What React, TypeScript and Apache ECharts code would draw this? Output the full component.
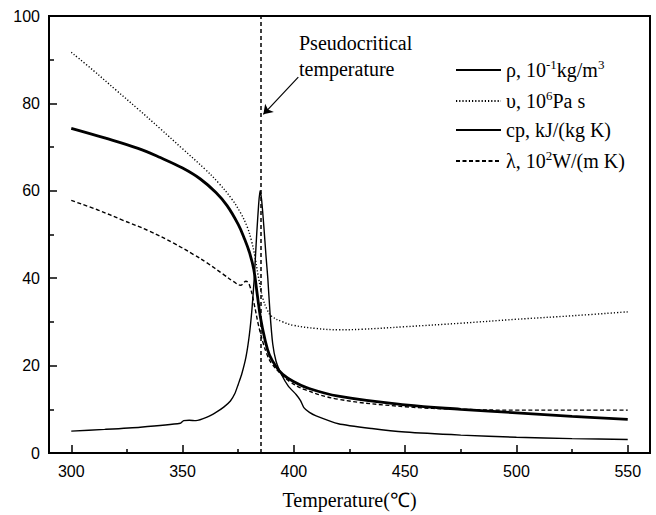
import React, { useEffect, useRef } from 'react';
import * as echarts from 'echarts';

// ---- data ----
const xTickLabels = [300, 350, 400, 450, 500, 550];
const xMinorTicks = [325, 375, 425, 475, 525];
const pseudoCriticalT = 385;

const rhoT = [300, 315, 330, 340, 350, 358, 365, 370, 375, 378, 380, 382, 383.5, 385, 387, 389, 392, 395, 400, 406, 420, 450, 475, 500, 525, 550];
const rhoV = [74.3, 72.1, 69.7, 67.6, 65.2, 62.7, 59.6, 56.6, 52.3, 48.8, 46.0, 42.0, 36.5, 31.0, 26.0, 22.5, 19.8, 18.0, 16.3, 14.9, 13.0, 11.0, 10.0, 9.2, 8.4, 7.7];

const nuT = [300, 310, 320, 330, 340, 350, 360, 366, 372, 376, 379, 381, 382.5, 384, 386, 388, 390, 395, 400, 410, 420, 430, 450, 475, 500, 525, 550];
const nuV = [91.7, 87.5, 83.1, 78.7, 74.2, 69.6, 65.0, 61.9, 58.2, 55.0, 51.8, 48.5, 45.0, 40.5, 35.5, 32.8, 31.3, 30.0, 29.2, 28.5, 28.2, 28.3, 28.9, 29.7, 30.6, 31.4, 32.3];

const cpT = [300, 315, 331, 349, 350.5, 353, 356, 361, 365, 368.5, 371.5, 373.5, 375, 376.5, 378.5, 380, 381.2, 382.2, 383.3, 384.2, 384.8, 385.5, 386.5, 387.5, 388.3, 389.3, 390.5, 392, 394.5, 397.5, 401, 403, 404.5, 407, 410, 420, 435, 450, 475, 500, 525, 550];
const cpV = [5.0, 5.4, 5.9, 6.8, 7.4, 7.5, 7.4, 8.2, 9.3, 10.5, 11.9, 13.6, 15.7, 17.9, 22, 27, 33, 40, 50, 57, 60, 58, 52, 45, 40, 32, 25, 21, 17.9, 15.3, 13.4, 12.0, 10.4, 9.3, 8.5, 6.7, 5.6, 4.8, 4.1, 3.6, 3.3, 3.1];

const lamT = [300, 312, 323, 335, 346, 355, 361, 368, 373, 376, 378.5, 380, 382, 384, 386, 388, 390, 394, 398, 405, 420, 450, 475, 500, 525, 550];
const lamV = [57.8, 55.6, 53.3, 50.8, 48.0, 45.4, 43.5, 41.0, 39.2, 38.4, 39.3, 38.5, 34.5, 29.5, 25.5, 22.5, 20.5, 18.2, 16.4, 14.5, 12.3, 10.6, 10.0, 9.8, 9.8, 9.8];

const seriesNames = ['ρ', 'υ', 'cp', 'λ'];
const legendLabels: Record<string, string> = {
  'ρ': '{n|ρ, 10}{s|-1}{n|kg/m}{s|3}',
  'υ': '{n|υ, 10}{s|6}{n|Pa s}',
  'cp': '{n|cp, kJ/(kg K)}',
  'λ': '{n|λ, 10}{s|2}{n|W/(m K)}',
};
const annotationText = 'Pseudocritical\ntemperature';
const arrowFrom = [402, 86];
const arrowTo = [386.3, 77.5];

const pairs = (xs: number[], ys: number[]) => xs.map((x, i) => [x, ys[i]]);

const SERIF = '"Liberation Serif", "Times New Roman", serif';
const SANS = '"Liberation Sans", Arial, sans-serif';
const INK = '#000';

export default function App() {
  const ref = useRef<HTMLDivElement>(null);
  useEffect(() => {
    document.body.style.margin = '0';
    const chart = echarts.init(ref.current!, null, { renderer: 'svg' });
    const lineBase = {
      type: 'line' as const,
      showSymbol: false,
      symbol: 'none',
      smooth: 0.4,
      color: INK,
      z: 3,
    };
    chart.setOption({
      animation: false,
      backgroundColor: '#fff',
      grid: {
        left: 49, right: 6, top: 16, bottom: 56,
        show: true, borderColor: INK, borderWidth: 2, backgroundColor: 'transparent',
      },
      legend: {
        data: seriesNames,
        orient: 'vertical',
        left: 455,
        top: 58,
        padding: 0,
        itemWidth: 45,
        itemHeight: 14,
        itemGap: 9,
        itemStyle: { opacity: 0 },
        formatter: (name: string) => legendLabels[name] || name,
        textStyle: {
          color: INK,
          rich: {
            n: { fontFamily: SERIF, fontSize: 20, color: INK, lineHeight: 24 },
            s: { fontFamily: SERIF, fontSize: 13, color: INK, lineHeight: 13, verticalAlign: 'top' },
          },
        },
      },
      xAxis: [
        {
          type: 'value', min: 290, max: 560,
          name: 'Temperature(℃)', nameLocation: 'middle', nameGap: 37,
          nameTextStyle: { fontFamily: SERIF, fontSize: 20, color: INK },
          axisLine: { show: true, lineStyle: { color: INK, width: 2 } },
          axisTick: { show: true, inside: true, length: 8, customValues: xTickLabels, lineStyle: { color: INK, width: 1.5 } },
          axisLabel: { customValues: xTickLabels, fontFamily: SANS, fontSize: 16, color: INK, margin: 10 },
          splitLine: { show: false },
        },
        {
          type: 'value', min: 290, max: 560, position: 'bottom',
          axisLine: { show: false },
          axisTick: { show: true, inside: true, length: 4, customValues: xMinorTicks, lineStyle: { color: INK, width: 1.5 } },
          axisLabel: { show: false },
          splitLine: { show: false },
        },
      ],
      yAxis: {
        type: 'value', min: 0, max: 100, interval: 20,
        axisLine: { show: true, lineStyle: { color: INK, width: 2 } },
        axisTick: { show: true, inside: true, length: 8, lineStyle: { color: INK, width: 1.5 } },
        minorTick: { show: true, splitNumber: 2, length: 5, lineStyle: { color: INK, width: 1.5 } },
        axisLabel: { fontFamily: SANS, fontSize: 16, color: INK, margin: 9 },
        splitLine: { show: false },
      },
      graphic: [
        {
          type: 'text', left: 299, top: 30,
          style: { text: annotationText, fontFamily: SERIF, fontSize: 20, lineHeight: 26, fill: INK },
        },
      ],
      series: [
        {
          ...lineBase, name: 'ρ', data: pairs(rhoT, rhoV),
          lineStyle: { color: INK, width: 2.8 },
          markLine: {
            silent: true, symbol: 'none', label: { show: false },
            lineStyle: { color: INK, width: 1.5, type: [4, 3] },
            data: [{ xAxis: pseudoCriticalT }],
          },
        },
        {
          ...lineBase, name: 'υ', data: pairs(nuT, nuV),
          lineStyle: { color: INK, width: 1.4, type: [1.2, 2] },
        },
        {
          ...lineBase, name: 'cp', data: pairs(cpT, cpV), smooth: 0.2,
          lineStyle: { color: INK, width: 1.4 },
        },
        {
          ...lineBase, name: 'λ', data: pairs(lamT, lamV),
          lineStyle: { color: INK, width: 1.4, type: [4, 2.5] },
        },
        {
          type: 'line', name: 'annotation', data: [], symbol: 'none',
          markLine: {
            silent: true, symbol: ['none', 'arrow'], symbolSize: 9,
            label: { show: false },
            lineStyle: { color: INK, width: 1.2, type: 'solid' },
            data: [[{ coord: arrowFrom }, { coord: arrowTo }]],
          },
        },
      ],
    });
    return () => chart.dispose();
  }, []);
  return <div ref={ref} style={{ width: 656, height: 515 }} />;
}
